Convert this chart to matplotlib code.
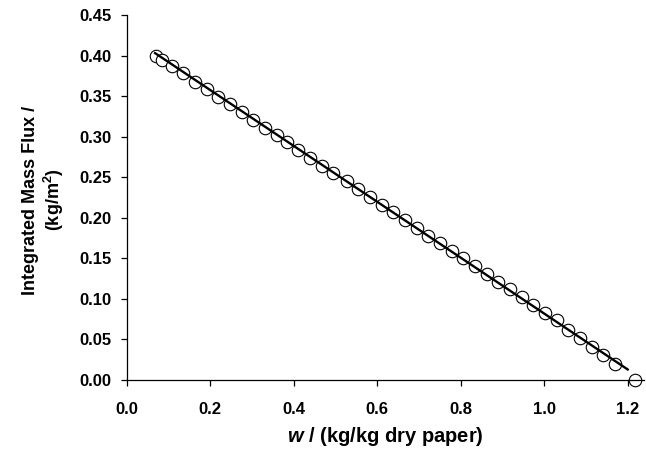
import matplotlib
matplotlib.use("Agg")
import matplotlib.pyplot as plt

plt.rcParams['font.family'] = ['Liberation Sans', 'DejaVu Sans']
plt.rcParams['mathtext.fontset'] = 'custom'
plt.rcParams['mathtext.it'] = 'Liberation Sans:italic:bold'
plt.rcParams['mathtext.rm'] = 'Liberation Sans:bold'

# Data
w_data = [0.070, 0.084, 0.108, 0.134, 0.164, 0.192, 0.219, 0.247, 0.275, 0.303,
          0.331, 0.359, 0.383, 0.411, 0.439, 0.467, 0.495, 0.527, 0.555, 0.583,
          0.611, 0.639, 0.667, 0.695, 0.722, 0.750, 0.778, 0.806, 0.834, 0.862,
          0.890, 0.918, 0.946, 0.974, 1.002, 1.030, 1.058, 1.086, 1.114, 1.142,
          1.170, 1.218]
flux_data = [0.400, 0.395, 0.387, 0.378, 0.368, 0.359, 0.349, 0.340, 0.330, 0.321,
             0.311, 0.302, 0.293, 0.283, 0.274, 0.264, 0.255, 0.245, 0.236, 0.226,
             0.216, 0.207, 0.197, 0.188, 0.178, 0.169, 0.159, 0.150, 0.140, 0.131,
             0.121, 0.112, 0.102, 0.093, 0.083, 0.074, 0.062, 0.052, 0.041, 0.031,
             0.020, 0.000]
fit_w = [0.068, 1.200]
fit_flux = [0.403, 0.013]

x_ticks = [0.0, 0.2, 0.4, 0.6, 0.8, 1.0, 1.2]
x_ticklabels = ['0.0', '0.2', '0.4', '0.6', '0.8', '1.0', '1.2']
y_ticks = [0.00, 0.05, 0.10, 0.15, 0.20, 0.25, 0.30, 0.35, 0.40, 0.45]
y_ticklabels = ['0.00', '0.05', '0.10', '0.15', '0.20', '0.25', '0.30', '0.35', '0.40', '0.45']

fig = plt.figure(figsize=(6.46, 4.51), dpi=100)
ax = fig.add_axes([126.7 / 646, 1 - 380 / 451, (644.4 - 126.7) / 646, (380 - 15) / 451])

ax.plot(w_data, flux_data, linestyle='none', marker='o', markersize=9,
        markerfacecolor='white', markeredgecolor='black', markeredgewidth=0.8,
        clip_on=False, zorder=2)
ax.plot(fit_w, fit_flux, color='black', linewidth=1.7, zorder=3)

ax.set_xlim(0, 1.24)
ax.set_ylim(0, 0.45)
ax.set_xticks(x_ticks)
ax.set_xticklabels(x_ticklabels, fontweight='bold', fontsize=12)
ax.set_yticks(y_ticks)
ax.set_yticklabels(y_ticklabels, fontweight='bold', fontsize=12)

for s in ['top', 'right']:
    ax.spines[s].set_visible(False)
for s in ['left', 'bottom']:
    ax.spines[s].set_linewidth(0.9)
ax.tick_params(axis='both', direction='out', length=4, width=0.9, colors='black')
ax.tick_params(axis='x', pad=12)
ax.tick_params(axis='y', pad=7)

fig.text(385.5 / 646, 1 - 437 / 451, r'$w$ / (kg/kg dry paper)', fontsize=14.5,
         fontweight='bold', ha='center', va='center')
fig.text(44 / 646, 1 - 200 / 451, 'Integrated Mass Flux /\n(kg/m$^{2}$)', fontsize=13,
         fontweight='bold', ha='center', va='center', rotation=90,
         multialignment='center', linespacing=1.2)

fig.savefig('out.png', dpi=100)
